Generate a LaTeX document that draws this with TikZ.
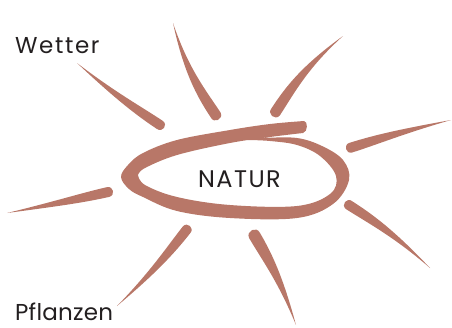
\documentclass[tikz,border=0pt]{standalone}
\usepackage{fontspec}
\setmainfont{Poppins}
\usetikzlibrary{calc}
\definecolor{brush}{RGB}{184,119,104}
\definecolor{ink}{RGB}{35,31,32}
\tikzset{
  brushfill/.style={fill=brush},
  labeltext/.style={text=ink, inner sep=0pt, anchor=base west},
}
% tapered brush ray: #1,#2 thin tip ; #3,#4 thick end ; #5 half width ; #6 bend
\newcommand\brushray[6]{%
  \pgfmathsetmacro\rdx{#3-#1}%
  \pgfmathsetmacro\rdy{#4-#2}%
  \pgfmathsetmacro\rlen{veclen(\rdx,\rdy)}%
  \pgfmathsetmacro\rang{atan2(-\rdy,\rdx)}%
  \pgfmathsetmacro\rc{\rlen-#5}%
  \pgfmathsetmacro\rk{\rc+1.33*#5}%
  \pgfmathsetmacro\ra{0.45*\rlen}%
  \pgfmathsetmacro\rb{\rc-0.25*\rlen}%
  \begin{scope}[shift={(#1,#2)},rotate=\rang]
    \fill[brushfill] (0,0)
      .. controls (\ra,{0.5*#5+#6}) and (\rb,{#5+0.5*#6}) .. (\rc,#5)
      .. controls (\rk,#5) and (\rk,-#5) .. (\rc,-#5)
      .. controls (\rb,{-#5+0.5*#6}) and (\ra,{-0.5*#5+#6}) .. (0,0) -- cycle;
  \end{scope}}
\begin{document}
\begin{tikzpicture}[x=1pt,y=-1pt]
\useasboundingbox (0,0) rectangle (452,327);
% rays
\brushray{77}{63}{164}{128}{5}{3}
\brushray{173}{23}{218}{120}{5.5}{8}
\brushray{343}{36}{272}{116}{5.5}{8}
\brushray{451}{120}{346}{149}{5}{2}
\brushray{7}{213}{113}{191}{5}{1}
\brushray{117}{306}{190}{226}{5}{4}
\brushray{296}{325}{252}{230}{6}{5}
\brushray{430}{268}{345}{202}{5}{5}
% oval loop
\fill[brushfill]
  plot[smooth, tension=0.6] coordinates {(304,121) (270,124) (230,130) (177,140) (143,153) (128,165) (121,177) (129,189) (143,197) (177,211) (230,218) (297,218) (333,204) (349,180) (343,160) (322,146) (297,138) (265,138) (248,140)}
  -- plot[smooth, tension=0.6] coordinates {(248,140) (270,141) (297,145) (320,156) (336,176) (330,194) (297,206) (230,205) (177,197) (145,185) (138,175)}
  -- plot[smooth, tension=0.6] coordinates {(138,175) (145,168) (177,155) (230,143) (270,137) (303,133)}
  .. controls (308,132) and (308,121) .. (304,121) -- cycle;
% labels
\node[labeltext, font=\fontsize{24}{28}\selectfont\addfontfeatures{LetterSpace=6}] (natur) at (198,187) {NATUR};
\node[labeltext, font=\fontsize{23}{27}\selectfont\addfontfeatures{LetterSpace=7}] (wetter) at (15,53) {Wetter};
\node[labeltext, font=\fontsize{23}{27}\selectfont\addfontfeatures{LetterSpace=1}] (pflanzen) at (15,320) {Pflanzen};
\end{tikzpicture}
\end{document}
